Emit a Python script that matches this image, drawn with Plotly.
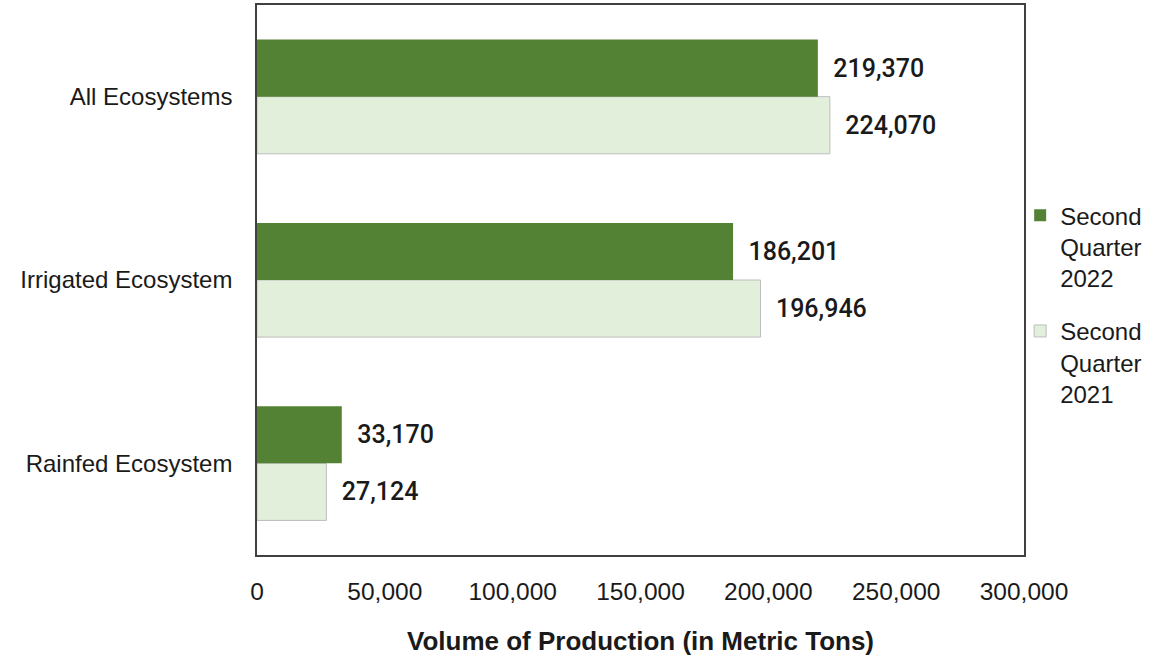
import plotly.graph_objects as go

categories = ["Rainfed Ecosystem", "Irrigated Ecosystem", "All Ecosystems"]
q2_2022 = [33170, 186201, 219370]
q2_2021 = [27124, 196946, 224070]
series_names = ["Second<br>Quarter<br>2022", "Second<br>Quarter<br>2021"]
x_ticks = [0, 50000, 100000, 150000, 200000, 250000, 300000]
x_ticklabels = ["0", "50,000", "100,000", "150,000", "200,000", "250,000", "300,000"]

sans = "Liberation Sans, Arial, sans-serif"
label_font = dict(family="Roboto, sans-serif", size=25, color="#1a1a1a", weight=500)

fig = go.Figure()
fig.add_trace(go.Bar(
    y=categories, x=q2_2021, orientation="h", name=series_names[1], legendgroup="g2021",
    legendrank=2,
    marker=dict(color="#E2EFDA", line=dict(color="#BDBDBD", width=1)),
    text=q2_2021, texttemplate="  %{x:,}", textposition="outside",
    textfont=label_font, cliponaxis=False,
))
fig.add_trace(go.Bar(
    y=categories, x=q2_2022, orientation="h", name=series_names[0], legendgroup="g2022",
    legendrank=1,
    marker=dict(color="#548235", line=dict(color="#548235", width=0)),
    text=q2_2022, texttemplate="  %{x:,}", textposition="outside",
    textfont=label_font, cliponaxis=False,
))

fig.update_layout(
    width=1149, height=662,
    margin=dict(l=257, r=125, t=5, b=107, autoexpand=False),
    barmode="group", bargap=0.377, bargroupgap=0,
    plot_bgcolor="white", paper_bgcolor="white",
    font=dict(family=sans, size=24, color="#1a1a1a"),
    legend=dict(traceorder="grouped", x=0.995, xanchor="left", y=0.455, yanchor="middle",
                font=dict(family=sans, size=24, color="#1a1a1a"),
                valign="top", itemwidth=30, tracegroupgap=19, bgcolor="rgba(0,0,0,0)"),
)
fig.update_xaxes(
    range=[0, 300000], tickvals=x_ticks, ticktext=x_ticklabels, automargin=False,
    showgrid=False, zeroline=False, showline=True, linecolor="#404040", linewidth=1.5, mirror=True,
    ticks="", ticklabelstandoff=14,
    tickfont=dict(family=sans, size=24.5, color="#1a1a1a"),
    title=dict(text="<b>Volume of Production (in Metric Tons)</b>", standoff=28,
               font=dict(family=sans, size=26, color="#1a1a1a")),
)
fig.update_yaxes(
    categoryorder="array", categoryarray=categories, automargin=False,
    showgrid=False, zeroline=False, showline=True, linecolor="#404040", linewidth=1.5, mirror=True,
    ticks="", ticklabelstandoff=18,
    tickfont=dict(family=sans, size=24, color="#1a1a1a"),
)

fig.write_html("out.html", config={"displayModeBar": False},
               post_script="document.body.style.margin='0';")
